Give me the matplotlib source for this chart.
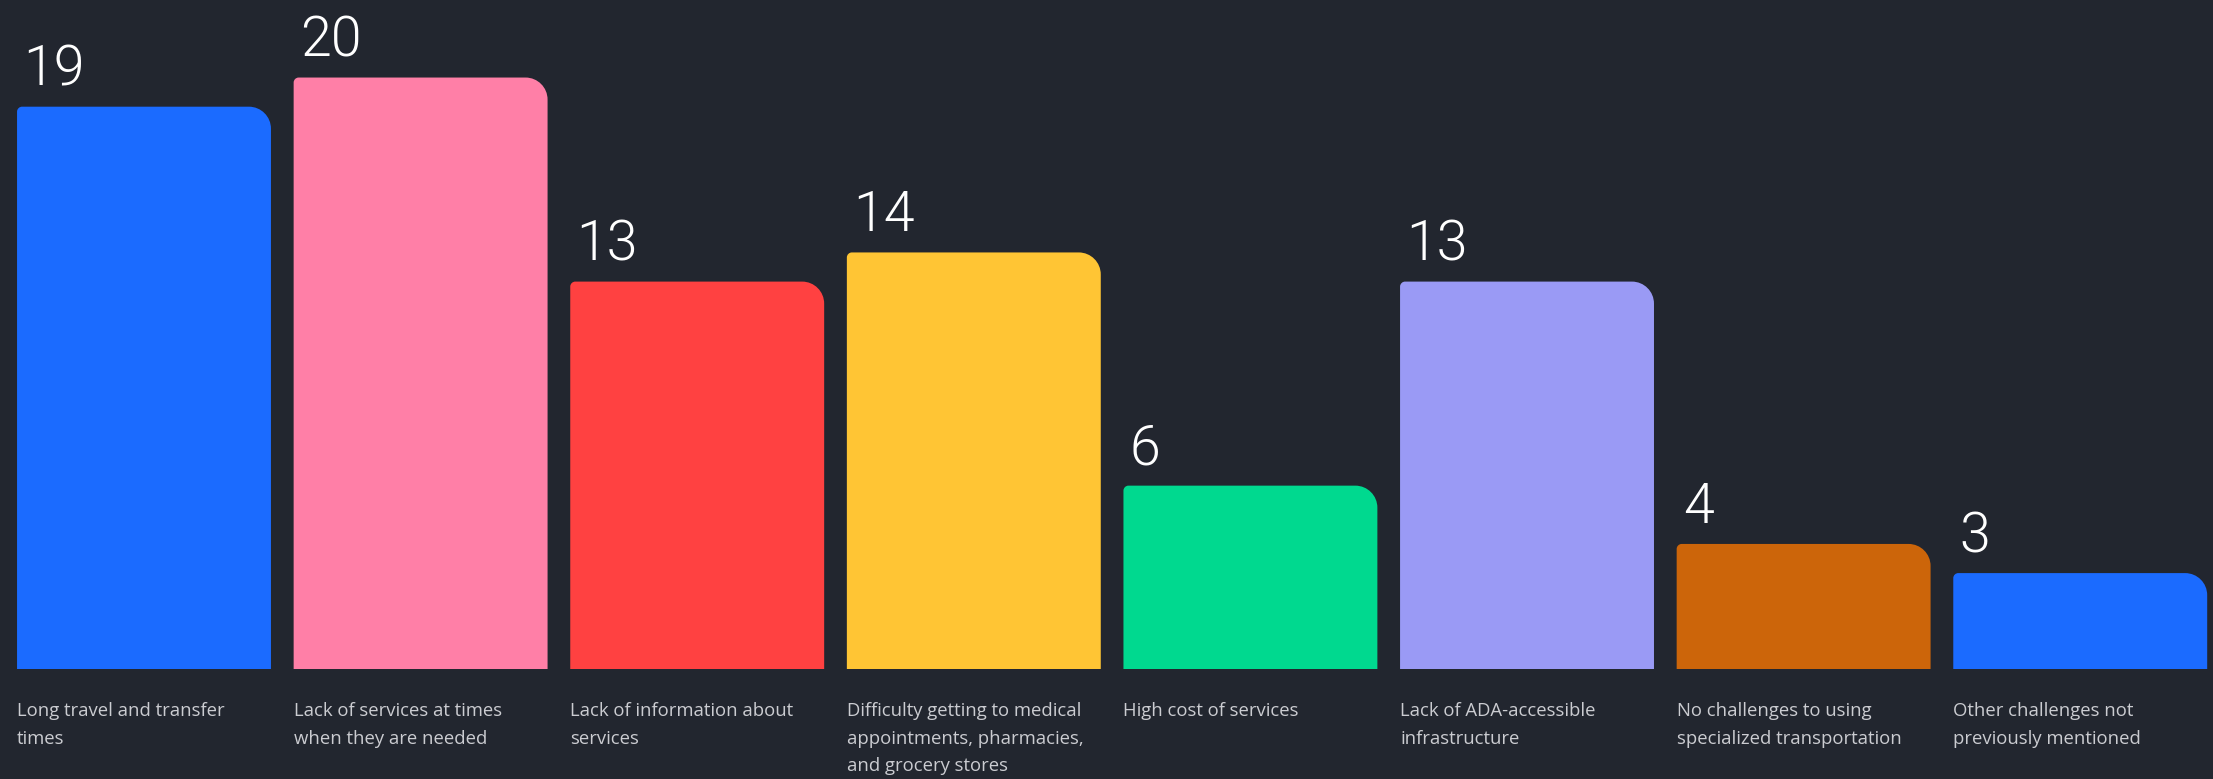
import matplotlib
matplotlib.use("Agg")
import matplotlib.pyplot as plt
from matplotlib.path import Path
from matplotlib.patches import PathPatch

categories = [
    "Long travel and transfer\ntimes",
    "Lack of services at times\nwhen they are needed",
    "Lack of information about\nservices",
    "Difficulty getting to medical\nappointments, pharmacies,\nand grocery stores",
    "High cost of services",
    "Lack of ADA-accessible\ninfrastructure",
    "No challenges to using\nspecialized transportation",
    "Other challenges not\npreviously mentioned",
]
values = [19, 20, 13, 14, 6, 13, 4, 3]
colors = ["#1b6bff", "#ff7fa7", "#ff4141", "#ffc534", "#00d98f", "#9a9af5", "#cc650a", "#1b6bff"]

BG = "#22262f"
W, H, DPI = 2213, 779, 100
fig = plt.figure(figsize=(W / DPI, H / DPI), dpi=DPI, facecolor=BG)
ax = fig.add_axes([0, 110 / H, 1, 669 / H])
ax.set_facecolor(BG)
YMIN, YMAX = -0.29, 22.66
XMIN, XMAX = -0.5206, 7.480
ax.set_xlim(XMIN, XMAX)
ax.set_ylim(YMIN, YMAX)
ax.axis("off")

width = 0.918
bars = ax.bar(range(len(values)), [v - YMIN for v in values], bottom=YMIN,
              width=width, color=colors, align="center")

px_per_x = W / (XMAX - XMIN)
px_per_y = 669 / (YMAX - YMIN)
r_px_tr = 22
r_px_tl = 5
for b, c, v in zip(bars, colors, values):
    x0 = b.get_x(); x1 = x0 + b.get_width(); y0 = YMIN; y1 = v
    b.set_visible(False)
    rx, ry = r_px_tr / px_per_x, r_px_tr / px_per_y
    sx, sy = r_px_tl / px_per_x, r_px_tl / px_per_y
    k = 0.5523
    verts = [
        (x0, y0), (x1, y0), (x1, y1 - ry),
        (x1, y1 - ry + k * ry), (x1 - rx + k * rx, y1), (x1 - rx, y1),
        (x0 + sx, y1),
        (x0 + sx - k * sx, y1), (x0, y1 - sy + k * sy), (x0, y1 - sy),
        (x0, y0),
    ]
    codes = [Path.MOVETO, Path.LINETO, Path.LINETO,
             Path.CURVE4, Path.CURVE4, Path.CURVE4,
             Path.LINETO,
             Path.CURVE4, Path.CURVE4, Path.CURVE4,
             Path.CLOSEPOLY]
    ax.add_patch(PathPatch(Path(verts, codes), facecolor=c, edgecolor="none"))

    ax.annotate(str(v), xy=(x0, y1), xytext=(6, 21), textcoords="offset pixels",
                ha="left", va="baseline", color="white", fontsize=40,
                family=["Roboto", "DejaVu Sans"], fontweight=300)

for b, lab in zip(bars, categories):
    ax.annotate(lab, xy=(b.get_x(), YMIN), xytext=(0, -33), textcoords="offset pixels",
                ha="left", va="top", color="#cbccd1", fontsize=13.3,
                family=["Open Sans", "DejaVu Sans"], linespacing=1.68, annotation_clip=False)

fig.savefig("out.png", dpi=DPI, facecolor=BG)
